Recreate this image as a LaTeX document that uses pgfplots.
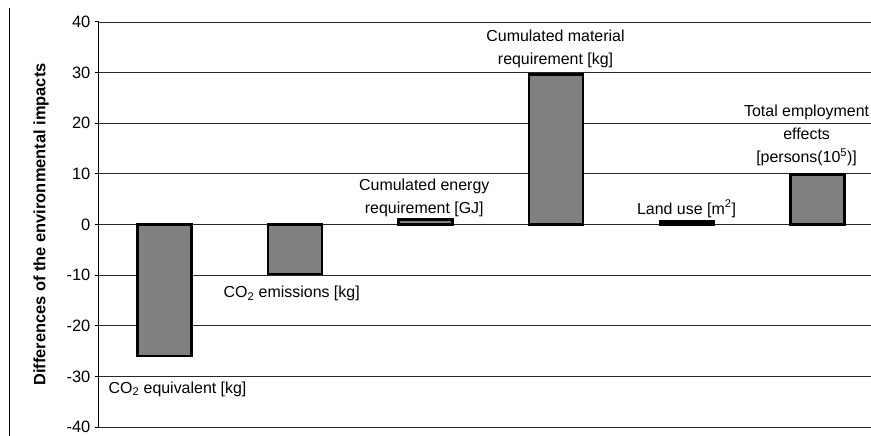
\documentclass[border=0pt]{standalone}
\usepackage{pgfplots}
\pgfplotsset{compat=1.18}
\usepackage{fontspec}
\setmainfont{Liberation Sans}

\definecolor{bargray}{HTML}{808080}

\begin{document}
\begin{tikzpicture}
\tikzset{lab/.style={font=\fontsize{16}{23}\selectfont, align=center, inner sep=0pt}}
\begin{axis}[at={(0,0)}, anchor=south west,
	scale only axis, width=772bp, height=405bp,
	xmin=-0.5, xmax=5.41,
	ymin=-40, ymax=40,
	axis x line=none,
	axis y line=left,
	axis line style={-, line width=1bp},
	ytick={-40,-30,...,40},
	yticklabels={-40,-30,-20,-10,0,10,20,30,40},
	yticklabel style={font=\fontsize{16.5}{19}\selectfont, inner ysep=0pt, inner xsep=4.5bp},
	tick align=outside,
	major tick length=4bp,
	tick style={black, line width=1bp},
	ymajorgrids,
	grid style={black!85, line width=0.9bp},
	ylabel={Differences of the environmental impacts},
	ylabel style={at={(axis description cs:-0.075,0.5)}, anchor=center,
		font=\fontsize{16.5}{19}\selectfont\bfseries},
	clip=false]
	\addplot[ybar, bar width=54bp, bar shift=0pt, fill=bargray, draw=black, line width=2.5bp]
	coordinates {
	(0,-26)
	(1,-9.8)
	(2,1)
	(3,29.6)
	(4,0.6)
	(5,9.9)};

	\node[lab, anchor=west] at (axis cs:-0.428,-32.5) {CO\textsubscript{2} equivalent [kg]};
	\node[lab, anchor=west] at (axis cs:0.453,-13.7) {CO\textsubscript{2} emissions [kg]};
	\node[lab] at (axis cs:1.99,5.2) {Cumulated energy\\requirement [GJ]};
	\node[lab] at (axis cs:2.995,34.6) {Cumulated material\\requirement [kg]};
	\node[lab] at (axis cs:3.998,3.1) {Land use [m\textsuperscript{2}]};
	\node[lab] at (axis cs:4.917,17.6) {Total employment\\effects\\{}[persons(10\textsuperscript{5})]};
\end{axis}
% frame line at the left edge
\draw[line width=1.2bp] (-89.5bp,-9bp) -- (-89.5bp,419bp);
\pgfresetboundingbox
\path[use as bounding box] (-99bp,-9bp) rectangle (772bp,427bp);
\end{tikzpicture}
\end{document}
